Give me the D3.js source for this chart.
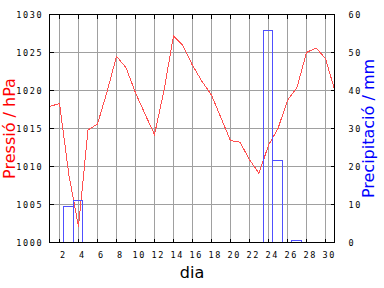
<!DOCTYPE html>
<html>
<head>
<meta charset="utf-8">
<script src="https://cdn.jsdelivr.net/npm/d3@7"></script>
<style>
  html, body { margin: 0; padding: 0; background: #ffffff; }
  svg { display: block; }
</style>
</head>
<body>
<svg id="chart" width="384" height="288"></svg>
<script>
// ---- data ----
const days = d3.range(1, 32);
const pressure = [1017.9, 1018.3, 1008.8, 1002.1, 1014.8, 1015.6, 1019.8, 1024.5, 1023.0, 1019.7,
                  1016.9, 1014.2, 1020.0, 1027.2, 1025.9, 1023.3, 1021.2, 1019.4, 1016.4, 1013.4,
                  1013.2, 1010.9, 1009.1, 1012.8, 1015.0, 1018.7, 1020.4, 1025.0, 1025.6, 1024.2,
                  1019.9];
const precipDays = [3, 4, 24, 25, 27];
const precipValues = [9.6, 11.1, 55.8, 21.6, 0.4];
const xTicks = [2, 4, 6, 8, 10, 12, 14, 16, 18, 20, 22, 24, 26, 28, 30];
const pressureTicks = [1000, 1005, 1010, 1015, 1020, 1025, 1030];
const precipTicks = [0, 10, 20, 30, 40, 50, 60];
const xTitle = "dia";
const leftTitle = "Pressió / hPa";
const rightTitle = "Precipitació / mm";

// ---- layout ----
const svg = d3.select("#chart");
const L = 49.5, R = 334.5, T = 14.5, B = 242.5;
const xs = d3.scaleLinear().domain([1, 31]).range([50, 335]);
const yP = d3.scaleLinear().domain([1000, 1030]).range([B, T]);
const yR = d3.scaleLinear().domain([0, 60]).range([B, T]);

const monoFont = "'DejaVu Sans Mono', monospace";
const fs = 8.5, ls = 1.6;
const fmt = d3.format("d");

// gridlines
const grid = svg.append("g").attr("stroke", "#a0a0a0").attr("stroke-width", 1)
  .attr("shape-rendering", "crispEdges");
grid.selectAll("line.v").data(xTicks).join("line").attr("class", "v")
  .attr("x1", d => xs(d)).attr("x2", d => xs(d)).attr("y1", T).attr("y2", B);
grid.selectAll("line.h").data(pressureTicks.slice(1, -1)).join("line").attr("class", "h")
  .attr("x1", L).attr("x2", R).attr("y1", d => yP(d)).attr("y2", d => yP(d));

// pressure line
const line = d3.line().x((d, i) => xs(days[i])).y(d => yP(d));
svg.append("path").datum(pressure)
  .attr("d", line).attr("fill", "none").attr("stroke", "#ff5050").attr("stroke-width", 1)
  .attr("shape-rendering", "crispEdges");

// precipitation bars
svg.append("g").selectAll("rect").data(precipDays).join("rect")
  .attr("x", d => Math.round(xs(d - 0.5)) - 0.5)
  .attr("width", d => Math.round(xs(d + 0.5)) - Math.round(xs(d - 0.5)))
  .attr("y", (d, i) => Math.round(yR(precipValues[i]) - 0.5) + 0.5)
  .attr("height", (d, i) => B - (Math.round(yR(precipValues[i]) - 0.5) + 0.5))
  .attr("fill", "none").attr("stroke", "#5050ff").attr("stroke-width", 1)
  .attr("shape-rendering", "crispEdges");

// axes
function styleAxis(g) {
  g.select(".domain").remove();
  g.selectAll(".tick line").attr("stroke", "#000").attr("shape-rendering", "crispEdges");
  g.selectAll(".tick text").attr("fill", "#000").attr("font-family", monoFont)
    .attr("font-size", fs).attr("letter-spacing", ls);
}
const gb = svg.append("g").attr("transform", `translate(0,${B})`)
  .call(d3.axisBottom(xs).tickValues(xTicks).tickFormat(fmt).tickSizeInner(-4).tickSizeOuter(0).offset(0))
  .call(styleAxis);
gb.selectAll(".tick text").attr("x", 3 + ls / 2).attr("y", 15).attr("dy", null);

svg.append("g").attr("transform", `translate(0,${T})`)
  .call(d3.axisTop(xs).tickValues(xTicks).tickSizeInner(-4).tickSizeOuter(0).offset(0).tickFormat(""))
  .call(styleAxis);

const gl = svg.append("g").attr("transform", `translate(${L},0)`)
  .call(d3.axisLeft(yP).tickValues(pressureTicks).tickFormat(fmt).tickSizeInner(-4).tickSizeOuter(0).offset(0))
  .call(styleAxis);
gl.selectAll(".tick text").attr("x", -8 + ls).attr("dy", "0.36em");

const gr = svg.append("g").attr("transform", `translate(${R},0)`)
  .call(d3.axisRight(yR).tickValues(precipTicks).tickFormat(fmt).tickSizeInner(-4).tickSizeOuter(0).offset(0))
  .call(styleAxis);
gr.selectAll(".tick text").attr("x", 14).attr("dy", "0.36em");

// frame
svg.append("rect").attr("x", L).attr("y", T).attr("width", R - L).attr("height", B - T)
  .attr("fill", "none").attr("stroke", "#000").attr("stroke-width", 1)
  .attr("shape-rendering", "crispEdges");

// titles
const titleFont = "'DejaVu Sans', sans-serif";
svg.append("text").text(xTitle)
  .attr("x", (L + R) / 2).attr("y", 278).attr("text-anchor", "middle")
  .attr("font-family", titleFont).attr("font-size", 16).attr("fill", "#000");
svg.append("text").text(leftTitle)
  .attr("transform", `translate(15,${(T + B) / 2}) rotate(-90)`).attr("text-anchor", "middle")
  .attr("font-family", titleFont).attr("font-size", 16).attr("fill", "#ff0000");
svg.append("text").text(rightTitle)
  .attr("transform", `translate(374,${(T + B) / 2}) rotate(-90)`).attr("text-anchor", "middle")
  .attr("font-family", titleFont).attr("font-size", 16).attr("fill", "#0000ff");
</script>
</body>
</html>
